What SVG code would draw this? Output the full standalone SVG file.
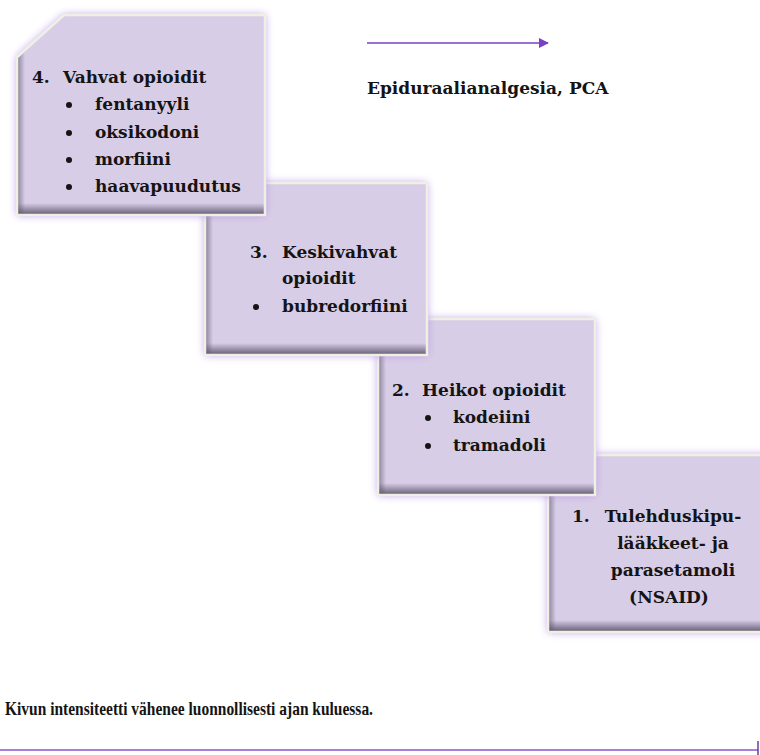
<svg xmlns="http://www.w3.org/2000/svg" width="760" height="755" viewBox="0 0 760 755">
<defs>
<filter id="glow" x="-20%" y="-20%" width="140%" height="140%">
<feGaussianBlur stdDeviation="4.5"/>
</filter>
<linearGradient id="shB" x1="0" y1="0" x2="0" y2="1">
<stop offset="0" stop-color="#5a5068" stop-opacity="0"/>
<stop offset="1" stop-color="#5a5068" stop-opacity="0.85"/>
</linearGradient>
<linearGradient id="shL" x1="0" y1="0" x2="1" y2="0">
<stop offset="0" stop-color="#5a5068" stop-opacity="0.55"/>
<stop offset="1" stop-color="#5a5068" stop-opacity="0"/>
</linearGradient>
<marker id="ah" viewBox="0 0 10 10" refX="9" refY="5" markerWidth="10" markerHeight="10" markerUnits="userSpaceOnUse" orient="auto">
<path d="M0,0 L10,5 L0,10 z" fill="#7b3fc4"/>
</marker>
</defs>
<style>
.glow{fill:#b58ae8;filter:url(#glow);opacity:0.9}
.box{fill:#d8cde6}
.edge{fill:none;stroke:#eef0e4;stroke-width:2.5}
.t{font-family:"DejaVu Serif","Liberation Serif",serif;font-weight:bold;font-size:17px;fill:#141414}
.b{font-family:"Liberation Serif","DejaVu Serif",serif;font-weight:bold;font-size:19px;fill:#141414}
</style>
<rect width="760" height="755" fill="#ffffff"/>

<g id="node1">
<rect class="glow" x="548" y="455" width="220" height="177"/>
<rect class="box" x="548" y="455" width="220" height="177"/>
<rect x="549" y="620" width="220" height="11" fill="url(#shB)"/>
<rect x="549" y="456" width="7" height="175" fill="url(#shL)"/>
<rect class="edge" x="548" y="455" width="222" height="177"/>
<text class="t" x="572" y="522">1.</text>
<text class="t" x="673" y="522" text-anchor="middle">Tulehduskipu-</text>
<text class="t" x="673" y="549" text-anchor="middle">lääkkeet- ja</text>
<text class="t" x="673" y="576" text-anchor="middle">parasetamoli</text>
<text class="t" x="669" y="603" text-anchor="middle">(NSAID)</text>
</g>

<g id="node2">
<rect class="glow" x="378" y="319" width="217" height="176"/>
<rect class="box" x="378" y="319" width="217" height="176"/>
<rect x="379" y="483" width="215" height="11" fill="url(#shB)"/>
<rect x="379" y="320" width="7" height="174" fill="url(#shL)"/>
<rect class="edge" x="378" y="319" width="217" height="176"/>
<text class="t" x="392" y="396">2.</text>
<text class="t" x="422" y="396">Heikot opioidit</text>
<circle cx="428" cy="418" r="3" fill="#141414"/>
<text class="t" x="453" y="423">kodeiini</text>
<circle cx="428" cy="446" r="3" fill="#141414"/>
<text class="t" x="453" y="451">tramadoli</text>
</g>

<g id="node3">
<rect class="glow" x="205" y="183" width="222" height="172"/>
<rect class="box" x="205" y="183" width="222" height="172"/>
<rect x="206" y="343" width="220" height="11" fill="url(#shB)"/>
<rect x="206" y="184" width="7" height="170" fill="url(#shL)"/>
<rect class="edge" x="205" y="183" width="222" height="172"/>
<text class="t" x="250" y="258">3.</text>
<text class="t" x="282" y="258">Keskivahvat</text>
<text class="t" x="282" y="284">opioidit</text>
<circle cx="256" cy="307" r="3" fill="#141414"/>
<text class="t" x="282" y="312">bubredorfiini</text>
</g>

<g id="node4">
<polygon class="glow" points="17,57 64,15 265,15 265,215 17,215"/>
<polygon class="box" points="17,57 64,15 265,15 265,215 17,215"/>
<rect x="18" y="203" width="246" height="11" fill="url(#shB)"/>
<polygon points="18,58 25,52 25,214 18,214" fill="url(#shL)"/>
<polygon class="edge" points="17,57 64,15 265,15 265,215 17,215"/>
<text class="t" x="32" y="83">4.</text>
<text class="t" x="63" y="83">Vahvat opioidit</text>
<circle cx="69" cy="105" r="3" fill="#141414"/>
<text class="t" x="95" y="110">fentanyyli</text>
<circle cx="69" cy="133" r="3" fill="#141414"/>
<text class="t" x="95" y="138">oksikodoni</text>
<circle cx="69" cy="160" r="3" fill="#141414"/>
<text class="t" x="95" y="165">morfiini</text>
<circle cx="69" cy="187" r="3" fill="#141414"/>
<text class="t" x="95" y="192">haavapuudutus</text>
</g>

<g id="connectors">
<line x1="367" y1="43" x2="548" y2="43" stroke="#7b3fc4" stroke-width="1.5" marker-end="url(#ah)"/>
<line x1="0" y1="750" x2="758" y2="750" stroke="#a880dc" stroke-width="2"/>
<line x1="758" y1="741" x2="758" y2="755" stroke="#6a3aa0" stroke-width="1.5"/>
</g>

<g id="labels">
<text class="t" x="367" y="94">Epiduraalianalgesia, PCA</text>
<text class="b" x="5" y="715" textLength="368" lengthAdjust="spacingAndGlyphs">Kivun intensiteetti vähenee luonnollisesti ajan kuluessa.</text>
</g>
</svg>
